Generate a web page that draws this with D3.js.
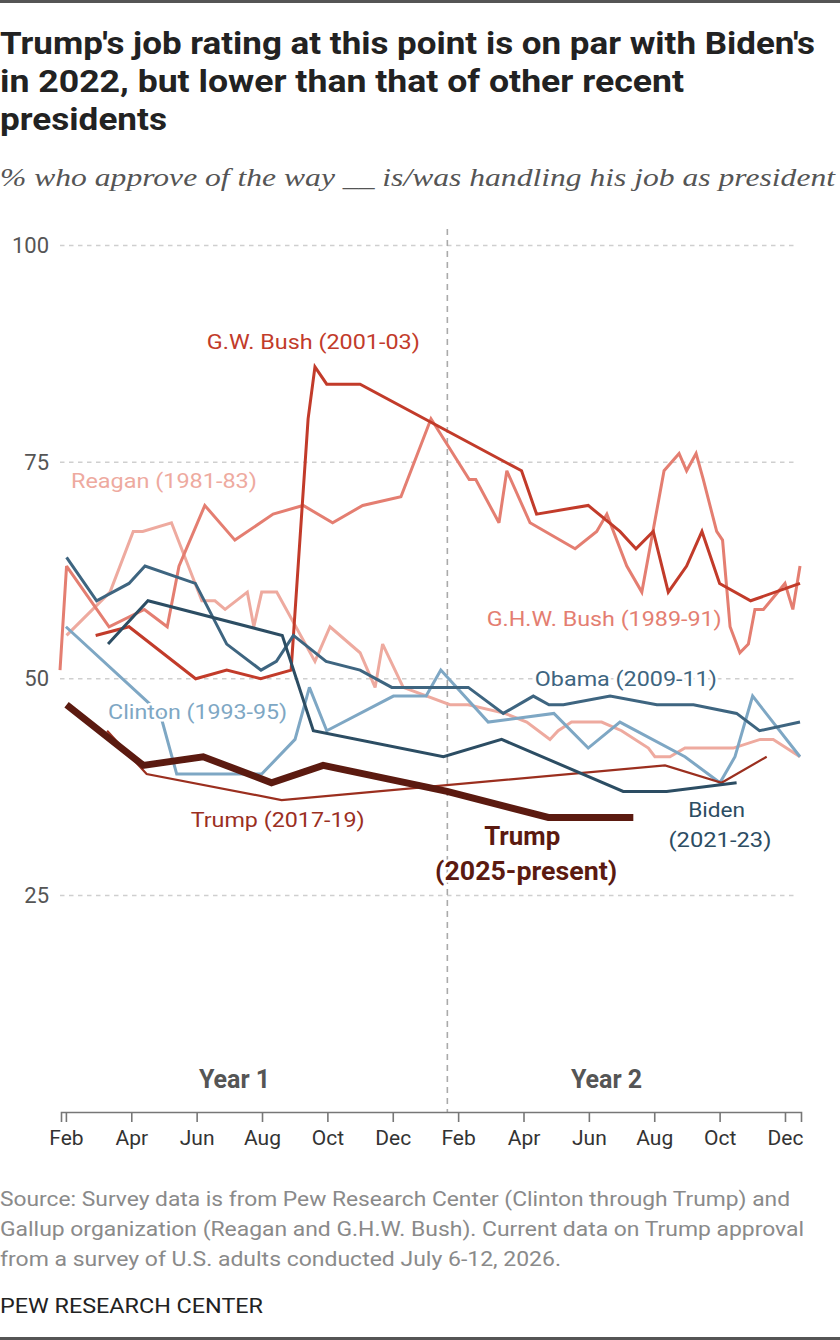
<!DOCTYPE html>
<html>
<head>
<meta charset="utf-8">
<script src="https://cdn.jsdelivr.net/npm/d3@7"></script>
<style>
  body { margin: 0; background: #fff; }
  svg { display: block; }
  text { font-family: Roboto, "Open Sans", sans-serif; }
</style>
</head>
<body>
<svg id="chart" width="840" height="1340"></svg>
<script>
// x = months since Jan 1 of Year 1 (1 = Feb Year 1, 13 = Feb Year 2)
const monthTicks = [1, 3, 5, 7, 9, 11, 13, 15, 17, 19, 21, 23];
const monthLabels = ["Feb", "Apr", "Jun", "Aug", "Oct", "Dec", "Feb", "Apr", "Jun", "Aug", "Oct", "Dec"];
const yTicks = [25, 50, 75, 100];
const yearLabels = ["Year 1", "Year 2"];

// [month, % approve]
const reagan = [[1.02, 55], [2.35, 60], [3.06, 67], [3.35, 67], [4.23, 68], [5.16, 59], [5.56, 59], [5.87, 58],
  [6.55, 60], [6.75, 56], [6.99, 60], [7.45, 60], [8.62, 52], [9.08, 56], [10.0, 53], [10.46, 49], [10.69, 54],
  [11.32, 49], [12.75, 47], [13.31, 47], [14.43, 46], [15.1, 45], [15.81, 43], [16.06, 44], [16.47, 45],
  [17.39, 45], [18.0, 44], [18.82, 42], [19.02, 41], [19.48, 41], [19.94, 42], [21.42, 42], [22.24, 43],
  [22.64, 43], [23.46, 41]];
const ghwBush = [[0.82, 51], [1.02, 63], [2.32, 56], [3.4, 58], [4.1, 56], [4.46, 63], [5.25, 70], [6.17, 66],
  [7.34, 69], [8.26, 70], [9.16, 68], [10.08, 70], [11.25, 71], [12.17, 80], [13.34, 73], [13.54, 73],
  [14.25, 68], [14.49, 74], [15.2, 68], [16.58, 65], [17.24, 67], [17.55, 69], [18.16, 63], [18.62, 60],
  [19.3, 74], [19.76, 76], [19.99, 74], [20.28, 76], [20.5, 73], [20.91, 67], [21.09, 66], [21.32, 56],
  [21.62, 53], [21.88, 54], [22.08, 58], [22.34, 58], [23.0, 61], [23.24, 58], [23.46, 63]];
const clinton = [[1.0, 56], [3.88, 46], [4.39, 39], [6.99, 39], [8.01, 43], [8.45, 49], [8.98, 44], [11.02, 48],
  [12.02, 48], [12.47, 51], [13.92, 45], [15.93, 46], [16.98, 42], [17.95, 45], [19.94, 41], [21.01, 38],
  [21.47, 41], [22.01, 48], [23.46, 41]];
const gwBush = [[1.91, 55], [2.93, 56], [4.97, 50], [5.92, 51], [6.96, 50], [7.89, 51], [8.41, 80], [8.62, 86],
  [8.98, 84], [10.0, 84], [14.94, 74], [15.4, 69], [16.98, 70], [17.95, 67], [18.44, 65], [18.97, 67],
  [19.43, 60], [19.99, 63], [20.46, 67], [21.0, 61], [21.95, 59], [23.46, 61]];
const obama = [[1.02, 64], [1.94, 59], [2.93, 61], [3.42, 63], [4.96, 61], [5.92, 54], [6.97, 51], [7.44, 52],
  [7.96, 55], [8.96, 52], [10.0, 51], [10.97, 49], [13.31, 49], [14.38, 46], [15.3, 48], [15.78, 47],
  [16.22, 47], [17.65, 48], [19.08, 47], [20.2, 47], [21.52, 46], [22.22, 44], [23.46, 45]];
const trump1 = [[2.26, 44], [3.47, 39], [7.6, 36], [19.33, 40], [21.06, 38], [22.44, 41]];
const biden = [[2.29, 54], [3.51, 59], [7.62, 55], [8.57, 44], [12.55, 41], [14.33, 43], [18.05, 37],
  [19.38, 37], [21.52, 38]];
const trump2 = [[1.02, 47], [3.37, 40], [5.2, 41], [7.29, 38], [8.87, 40], [12.66, 37], [15.76, 34], [18.36, 34]];

const series = [
  { data: reagan, color: "#eeaa9f", width: 3 },
  { data: ghwBush, color: "#e47e71", width: 3 },
  { data: clinton, color: "#7ea7c4", width: 3 },
  { data: gwBush, color: "#c23b2a", width: 3 },
  { data: obama, color: "#3e6580", width: 3 },
  { data: trump1, color: "#9b2f1f", width: 2.2 },
  { data: biden, color: "#2c4d63", width: 3 },
  { data: trump2, color: "#5b1a10", width: 7 }
];

// label placement in chart units, target width in px
const labels = [
  { text: "G.W. Bush (2001-03)", m: 8.57, v: 88.86, len: 213, color: "#c23b2a" },
  { text: "Reagan (1981-83)", m: 4.0, v: 72.86, len: 186, color: "#eeaa9f" },
  { text: "G.H.W. Bush (1989-91)", m: 17.47, v: 56.98, len: 235, color: "#e47e71" },
  { text: "Obama (2009-11)", m: 18.13, v: 50.05, len: 182, color: "#3e6580" },
  { text: "Clinton (1993-95)", m: 5.03, v: 46.2, len: 179, color: "#7ea7c4" },
  { text: "Trump (2017-19)", m: 7.48, v: 33.7, len: 174, color: "#9b2f1f" },
  { text: "Biden", m: 20.91, v: 34.85, len: 57, color: "#2c4d63" },
  { text: "(2021-23)", m: 21.01, v: 31.47, len: 103, color: "#2c4d63" },
  { text: "Trump", m: 14.96, v: 31.77, len: 76, color: "#5b1a10", bold: true },
  { text: "(2025-present)", m: 15.08, v: 27.73, len: 182, color: "#5b1a10", bold: true }
];

const svg = d3.select("#chart");

const x = d3.scaleLinear().domain([0.85, 23.49]).range([61, 801]);
const y = d3.scaleLinear().domain([0, 100]).range([1112, 245.5]);

// top / bottom rules
svg.append("rect").attr("x", 0).attr("y", 0).attr("width", 840).attr("height", 3).attr("fill", "#555");
svg.append("rect").attr("x", 0).attr("y", 1337).attr("width", 840).attr("height", 3).attr("fill", "#555");

// title
const titleLines = [
  { t: "Trump's job rating at this point is on par with Biden's", len: 815 },
  { t: "in 2022, but lower than that of other recent", len: 684 },
  { t: "presidents", len: 167 }
];
svg.append("g").selectAll("text")
  .data(titleLines)
  .join("text")
  .attr("x", 0)
  .attr("y", (d, i) => 54 + i * 38)
  .attr("font-size", 32)
  .attr("font-weight", 700)
  .attr("fill", "#222")
  .attr("textLength", d => d.len)
  .attr("lengthAdjust", "spacingAndGlyphs")
  .text(d => d.t);

svg.append("text")
  .attr("x", 0)
  .attr("y", 186)
  .attr("font-size", 26)
  .attr("font-style", "italic")
  .style("font-family", "'Liberation Serif', 'DejaVu Serif', serif")
  .attr("fill", "#555")
  .attr("textLength", 835)
  .attr("lengthAdjust", "spacingAndGlyphs")
  .text("% who approve of the way __ is/was handling his job as president");

// gridlines + y labels
const grid = svg.append("g");
grid.selectAll("line")
  .data(yTicks)
  .join("line")
  .attr("x1", 60).attr("x2", 797)
  .attr("y1", d => y(d)).attr("y2", d => y(d))
  .attr("stroke", "#cfcfcf")
  .attr("stroke-width", 1.5)
  .attr("stroke-dasharray", "4.5,4.5");
grid.selectAll("text")
  .data(yTicks)
  .join("text")
  .attr("x", 49)
  .attr("y", d => y(d))
  .attr("dy", "0.35em")
  .attr("text-anchor", "end")
  .attr("font-size", 22)
  .attr("fill", "#555")
  .text(d => d);

// year divider
svg.append("line")
  .attr("x1", x(12.67)).attr("x2", x(12.67))
  .attr("y1", 229).attr("y2", y(0))
  .attr("stroke", "#aaa")
  .attr("stroke-width", 1.6)
  .attr("stroke-dasharray", "6,5");

// x axis
const xAxis = svg.append("g")
  .attr("transform", `translate(0,${y(0)})`)
  .call(d3.axisBottom(x)
    .tickValues(monthTicks)
    .tickFormat((d, i) => monthLabels[i])
    .tickSize(10)
    .tickPadding(8));
xAxis.select(".domain").attr("stroke", "#777").attr("stroke-width", 1.6);
xAxis.selectAll(".tick line").attr("stroke", "#777").attr("stroke-width", 1.6);
xAxis.selectAll(".tick text")
  .attr("font-size", 21)
  .attr("font-family", "Roboto, sans-serif")
  .attr("fill", "#333");

svg.append("g").selectAll("text")
  .data(yearLabels)
  .join("text")
  .attr("x", (d, i) => x([6.16, 17.54][i]))
  .attr("y", 1079)
  .attr("dy", "0.35em")
  .attr("text-anchor", "middle")
  .attr("font-size", 25)
  .attr("font-weight", 700)
  .attr("fill", "#555")
  .text(d => d);

// lines
const line = d3.line().x(d => x(d[0])).y(d => y(d[1]));
svg.append("g")
  .attr("fill", "none")
  .selectAll("path")
  .data(series)
  .join("path")
  .attr("d", d => line(d.data))
  .attr("stroke", d => d.color)
  .attr("stroke-width", d => d.width)
  .attr("stroke-linejoin", "miter")
  .attr("stroke-miterlimit", 3);

// series labels with white halo
svg.append("g").selectAll("text")
  .data(labels)
  .join("text")
  .attr("x", d => x(d.m))
  .attr("y", d => y(d.v))
  .attr("dy", "0.35em")
  .attr("text-anchor", "middle")
  .attr("font-size", d => d.bold ? 25 : 21)
  .attr("font-weight", d => d.bold ? 700 : 400)
  .attr("fill", d => d.color)
  .attr("stroke", "#fff")
  .attr("stroke-width", 5)
  .attr("stroke-linejoin", "round")
  .attr("paint-order", "stroke")
  .attr("textLength", d => d.len)
  .attr("lengthAdjust", "spacingAndGlyphs")
  .text(d => d.text);

// footer
const sourceLines = [
  { t: "Source: Survey data is from Pew Research Center (Clinton through Trump) and", len: 790 },
  { t: "Gallup organization (Reagan and G.H.W. Bush). Current data on Trump approval", len: 804 },
  { t: "from a survey of U.S. adults conducted July 6-12, 2026.", len: 561 }
];
svg.append("g").selectAll("text")
  .data(sourceLines)
  .join("text")
  .attr("x", 0)
  .attr("y", (d, i) => 1206 + i * 30)
  .attr("font-size", 20)
  .attr("fill", "#8a8a8a")
  .attr("textLength", d => d.len)
  .attr("lengthAdjust", "spacingAndGlyphs")
  .text(d => d.t);

svg.append("text")
  .attr("x", 0)
  .attr("y", 1313)
  .attr("font-size", 21)
  .attr("fill", "#222")
  .attr("textLength", 263)
  .attr("lengthAdjust", "spacingAndGlyphs")
  .text("PEW RESEARCH CENTER");
</script>
</body>
</html>
